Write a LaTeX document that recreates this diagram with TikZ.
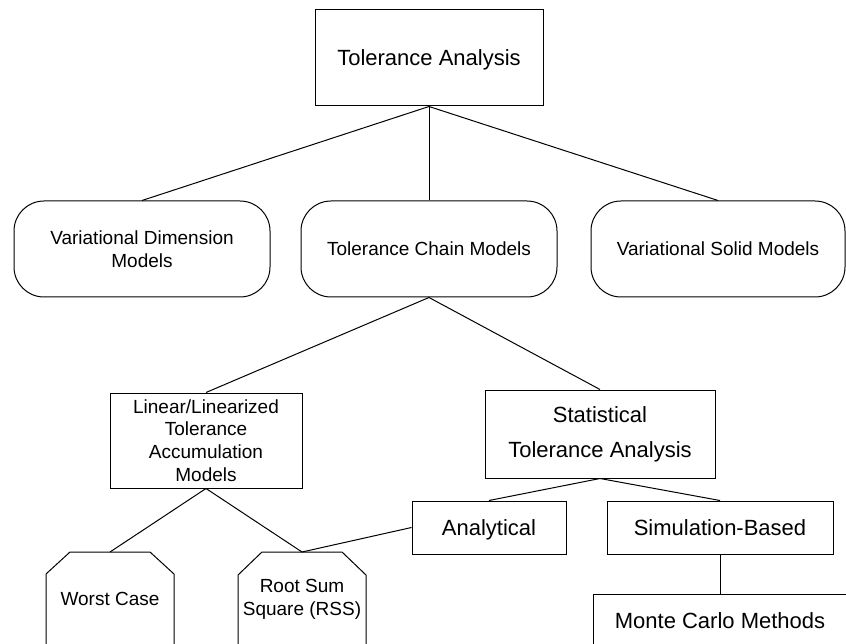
\documentclass[tikz,border=0pt]{standalone}
\usepackage{fontspec}
\setmainfont{Liberation Sans}
\begin{document}
\begin{tikzpicture}[x=1pt,y=-1pt,
  line width=1pt,
  big/.style={font=\fontsize{22}{26}\selectfont},
  oneline/.style={text height=16pt, text depth=0pt},
  small/.style={font=\fontsize{19}{22.7}\selectfont},
  sqbox/.style={draw, rectangle, inner sep=0pt, align=center},
  rbox/.style={draw, rectangle, rounded corners=30pt, inner sep=0pt, align=center, small, minimum width=256pt, minimum height=96pt},
  lbl/.style={inner sep=0pt, align=center}
]
\useasboundingbox (0,0) rectangle (846,644);

% level 0
\node[sqbox, big, oneline, minimum width=228pt, minimum height=96pt] (ta) at (429,58) {Tolerance Analysis};

% level 1
\node[rbox] (vdm) at (142,249) {Variational Dimension\\Models};
\node[rbox] (tcm) at (429,249) {Tolerance Chain Models};
\node[rbox, minimum width=254pt] (vsm) at (718,249) {Variational Solid Models};

% level 2
\node[sqbox, small, minimum width=192pt, minimum height=95pt] (lin) at (206,440.5)
  {Linear/Linearized\\Tolerance\\Accumulation\\Models};
\node[sqbox, font=\fontsize{22}{35}\selectfont, minimum width=230pt, minimum height=88pt] (sta) at (600,434)
  {Statistical\\Tolerance Analysis};

% level 3
\node[sqbox, big, oneline, minimum width=154pt, minimum height=53pt] (ana) at (489,527.5) {Analytical};
\node[sqbox, big, oneline, minimum width=226pt, minimum height=53pt] (sim) at (720,527.5) {Simulation-Based};

% bottom shapes (cut by the page edge)
\coordinate (wctop) at (110,552);
\coordinate (rsstop) at (302,552);
\draw (46,646) -- (46,574) -- (70,552) -- (150,552) -- (174,574) -- (174,646);
\draw (238,646) -- (238,575) -- (262,552) -- (342,552) -- (366,575) -- (366,646);
\node[lbl, small] (wc) at (110,598.5) {Worst Case};
\node[lbl, small] (rss) at (302,599) {Root Sum\\Square (RSS)};

\node[draw, rectangle, inner sep=0pt, minimum width=254pt, minimum height=70pt, anchor=north] (mcbox) at (720,594) {};
\node[lbl, big, oneline] (mc) at (720,620) {Monte Carlo Methods};

% connectors
\draw (ta.south) -- (vdm.north);
\draw (ta.south) -- (tcm.north);
\draw (ta.south) -- (vsm.north);
\draw (tcm.south) -- (lin.north);
\draw (tcm.south) -- (sta.north);
\draw (lin.south) -- (wctop);
\draw (lin.south) -- (rsstop);
\draw (sta.south) -- (ana.north);
\draw (sta.south) -- (sim.north);
\draw (ana.west) -- (rsstop);
\draw (sim.south) -- (mcbox.north);
\end{tikzpicture}
\end{document}
